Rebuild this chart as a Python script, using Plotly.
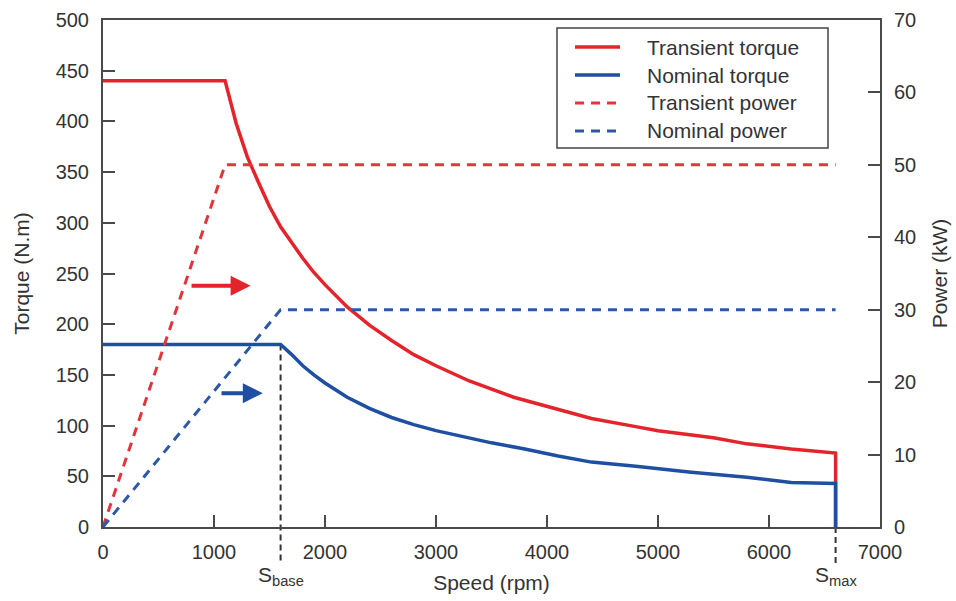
import plotly.graph_objects as go

# Torque curves (N.m) against motor speed (rpm)
trans_torque_speed = [0, 1100, 1200, 1300, 1400, 1500, 1600, 1700, 1800, 1900, 2000, 2200,
                      2400, 2600, 2800, 3000, 3300, 3700, 4100, 4400, 4800, 5000, 5500,
                      5800, 6200, 6600, 6600]
trans_torque = [440, 440, 398, 365, 340, 316, 296, 280, 265, 251, 239, 217,
                199, 184, 170, 159, 144, 128, 116, 107, 99, 95, 88,
                82, 77, 73, 0]

nom_torque_speed = [0, 1600, 1700, 1800, 1900, 2000, 2200, 2400, 2600, 2800, 3000, 3200,
                    3500, 3800, 4100, 4400, 4800, 5300, 5800, 6200, 6600, 6600]
nom_torque = [180, 180, 170, 159, 150, 142, 128, 117, 108, 101, 95, 90,
              83, 77, 70, 64, 60, 54, 49, 44, 43, 0]

# Power envelopes (kW)
trans_power_speed = [0, 1100, 6600]
trans_power = [0, 50, 50]
nom_power_speed = [0, 1600, 6600]
nom_power = [0, 30, 30]

# Characteristic speeds
s_base = 1600
s_max = 6600
s_base_torque = 180

legend_labels = ["Transient torque", "Nominal torque", "Transient power", "Nominal power"]

RED = "#e4242b"
BLUE = "#1f4fa3"
RED_D = "#e2343b"
BLUE_D = "#2c58a8"
AX = "#4a4a4a"
TXT = "#333333"
FONT = "Liberation Sans, Arial, sans-serif"
DASH = "9px,7px"

styles = [
    dict(color=RED, width=3.5, dash="solid"),
    dict(color=BLUE, width=3.5, dash="solid"),
    dict(color=RED_D, width=3, dash=DASH),
    dict(color=BLUE_D, width=3, dash=DASH),
]

fig = go.Figure()
fig.add_trace(go.Scatter(x=trans_torque_speed, y=trans_torque, mode="lines",
                         name=legend_labels[0], line=styles[0]))
fig.add_trace(go.Scatter(x=nom_torque_speed, y=nom_torque, mode="lines",
                         name=legend_labels[1], line=styles[1]))
fig.add_trace(go.Scatter(x=trans_power_speed, y=trans_power, mode="lines", yaxis="y2",
                         name=legend_labels[2], line=styles[2]))
fig.add_trace(go.Scatter(x=nom_power_speed, y=nom_power, mode="lines", yaxis="y2",
                         name=legend_labels[3], line=styles[3]))

# Dashed markers for base and maximum speed, running below the axis
fig.add_shape(type="line", xref="x", yref="paper", x0=s_base, x1=s_base,
              y0=s_base_torque / 500, y1=-0.072,
              line=dict(color=TXT, width=2, dash="6px,4px"), layer="below")
fig.add_shape(type="line", xref="x", yref="paper", x0=s_max, x1=s_max,
              y0=0, y1=-0.078,
              line=dict(color=TXT, width=2, dash="6px,4px"), layer="below")

# Legend box with line samples, placed in the upper right of the plot area
LX0, LX1, LY0, LY1 = 0.5843, 0.9331, 0.7475, 0.9842
fig.add_shape(type="rect", xref="paper", yref="paper", x0=LX0, x1=LX1, y0=LY0, y1=LY1,
              line=dict(color="#444444", width=1.5), fillcolor="white", layer="above")
row_y = [0.9467, 0.8915, 0.8363, 0.7811]
annotations = []
for label, st, yy in zip(legend_labels, styles, row_y):
    fig.add_shape(type="line", xref="paper", yref="paper", x0=0.6075, x1=0.6654,
                  y0=yy, y1=yy, line=st, layer="above")
    annotations.append(dict(text=label, x=0.6976, y=yy, xref="paper", yref="paper",
                            xanchor="left", yanchor="middle", showarrow=False,
                            font=dict(family=FONT, size=21, color=TXT)))

annotations += [
    dict(text="S<sub>base</sub>", x=s_base, xref="x", y=-0.097, yref="paper",
         showarrow=False, yanchor="middle", xanchor="center",
         font=dict(family=FONT, size=21, color=TXT)),
    dict(text="S<sub>max</sub>", x=s_max, xref="x", y=-0.097, yref="paper",
         showarrow=False, yanchor="middle", xanchor="center",
         font=dict(family=FONT, size=21, color=TXT)),
    # Arrows pointing each power curve to the right-hand axis
    dict(x=1330, y=238, ax=784, ay=238, xref="x", yref="y", axref="x", ayref="y",
         text="", showarrow=True, arrowhead=2, arrowsize=1, arrowwidth=4,
         arrowcolor=RED),
    dict(x=1440, y=132, ax=1054, ay=132, xref="x", yref="y", axref="x", ayref="y",
         text="", showarrow=True, arrowhead=2, arrowsize=1, arrowwidth=4,
         arrowcolor=BLUE),
]

tickfont = dict(family=FONT, size=20, color=TXT)
titlefont = dict(family=FONT, size=21, color=TXT)

fig.update_layout(
    width=956, height=601,
    margin=dict(l=103, r=76, t=20, b=74, autoexpand=False),
    paper_bgcolor="white", plot_bgcolor="white",
    showlegend=False,
    annotations=annotations,
    xaxis=dict(range=[0, 7000], tickvals=[0, 1000, 2000, 3000, 4000, 5000, 6000, 7000],
               ticks="inside", ticklen=12, tickwidth=2, tickcolor=AX,
               showline=True, linecolor=AX, linewidth=2, mirror=True,
               showgrid=False, zeroline=False, tickfont=tickfont,
               ticklabelstandoff=6, automargin=False,
               title=dict(text="Speed (rpm)", font=titlefont, standoff=13)),
    yaxis=dict(range=[0, 500], dtick=50, ticks="inside", ticklen=12, tickwidth=2,
               tickcolor=AX, showline=True, linecolor=AX, linewidth=2,
               showgrid=False, zeroline=False, tickfont=tickfont,
               ticklabelstandoff=8, automargin=False,
               title=dict(text="Torque (N.m)", font=titlefont, standoff=20)),
    yaxis2=dict(range=[0, 70], dtick=10, overlaying="y", side="right",
                ticks="inside", ticklen=12, tickwidth=2, tickcolor=AX,
                showline=True, linecolor=AX, linewidth=2,
                showgrid=False, zeroline=False, tickfont=tickfont,
                ticklabelstandoff=8, automargin=False,
                title=dict(text="Power (kW)", font=titlefont, standoff=17)),
)

fig.write_html("out.html")
